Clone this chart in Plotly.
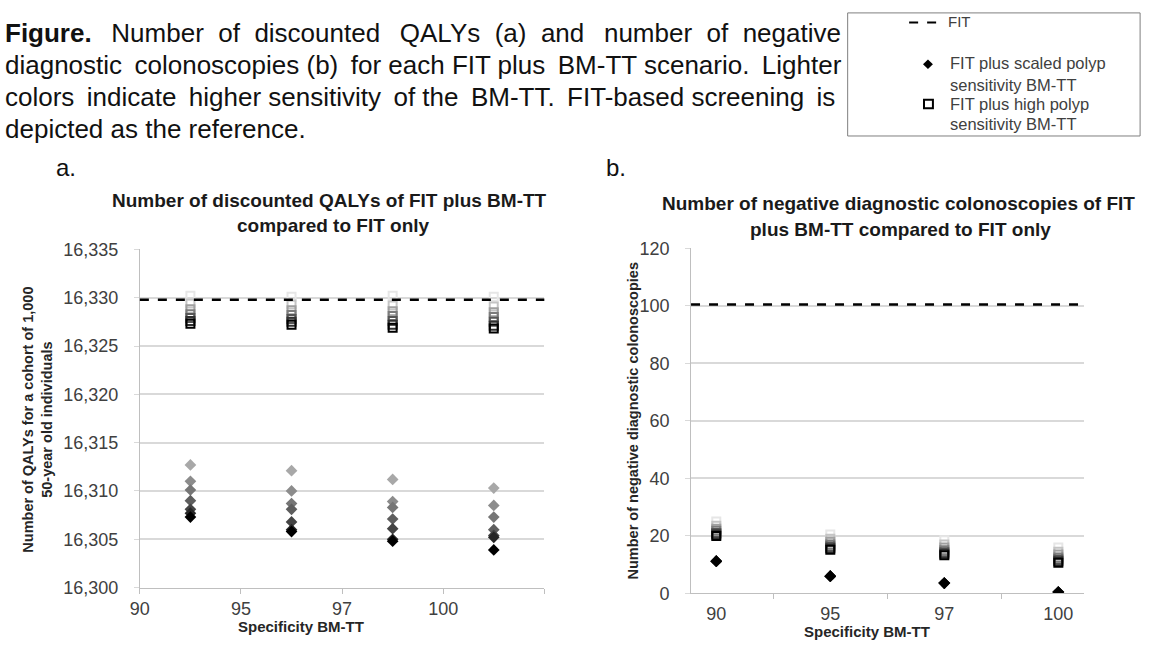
import plotly.graph_objects as go
from plotly.subplots import make_subplots

W, H = 1152, 648

# ---------------- data ----------------
spec_labels = ["90", "95", "97", "100"]

fit_qaly = 16329.8
fit_negcol = 100.5

# level 0 = highest BM-TT sensitivity (lightest), level 6 = lowest (darkest)
qaly_scaled = [
    [16312.7, 16312.1, 16311.2, 16310.3],
    [16311.0, 16310.0, 16308.9, 16308.5],
    [16310.1, 16308.7, 16308.3, 16307.3],
    [16309.0, 16308.1, 16307.1, 16306.0],
    [16308.1, 16306.8, 16306.1, 16305.4],
    [16307.7, 16306.0, 16305.0, 16305.2],
    [16307.3, 16305.8, 16304.8, 16303.9],
]
qaly_high = [
    [16330.2, 16330.1, 16330.2, 16330.1],
    [16329.4, 16329.3, 16329.2, 16329.1],
    [16328.8, 16328.7, 16328.6, 16328.5],
    [16328.3, 16328.2, 16328.1, 16328.0],
    [16327.9, 16327.8, 16327.6, 16327.5],
    [16327.6, 16327.5, 16327.2, 16327.1],
    [16327.3, 16327.2, 16326.9, 16326.8],
]
negcol_scaled = [
    [11.2, 6.0, 3.6, 0.5],
    [11.2, 6.0, 3.6, 0.5],
    [11.2, 6.0, 3.6, 0.5],
    [11.2, 6.0, 3.6, 0.5],
    [11.2, 6.0, 3.6, 0.5],
    [11.2, 6.0, 3.6, 0.5],
    [11.2, 6.0, 3.6, 0.5],
]
negcol_high = [
    [25.0, 20.5, 18.5, 16.0],
    [23.5, 19.0, 17.0, 14.5],
    [22.5, 18.0, 16.0, 13.5],
    [21.8, 17.0, 15.0, 12.5],
    [21.0, 16.3, 14.3, 11.8],
    [20.5, 15.7, 13.8, 11.2],
    [20.0, 15.2, 13.3, 10.7],
]

diamond_colors = ["#a8a8a8", "#8c8c8c", "#767676", "#5e5e5e", "#444444", "#262626", "#000000"]
square_colors = ["#e6e6e6", "#c4c4c4", "#a0a0a0", "#7c7c7c", "#565656", "#303030", "#000000"]

caption_lines = [
    ["<b>Figure.</b>", "Number", "of", "discounted", "QALYs", "(a)", "and", "number", "of", "negative"],
    ["diagnostic", "colonoscopies", "(b)", "for", "each", "FIT", "plus", "BM-TT", "scenario.", "Lighter"],
    ["colors", "indicate", "higher", "sensitivity", "of", "the", "BM-TT.", "FIT-based", "screening", "is"],
    ["depicted", "as", "the", "reference."],
]

# ---------------- helpers ----------------
def px(x):
    return x / W

def py(y):
    return 1 - y / H

NB = "\u00a0"
TH = "\u2009"

# extra spacing per gap to imitate the justified paragraph
gap_extra = [
    [NB + TH, NB, NB, NB + TH, NB, NB, NB + TH, NB, NB],
    [TH, "", TH, "", "", "", TH, "", TH],
    [TH, TH, "", TH, "", TH, TH, "", TH],
    ["", "", ""],
]

def justify(words, extras):
    out = words[0]
    for w, e in zip(words[1:], extras):
        out += " " + e + w
    return out

FONT = "Liberation Sans"
TXT = "#262626"
GRID = "#d9d9d9"

fig = make_subplots(rows=1, cols=2)

left_x = [i + 0.5 for i in range(len(spec_labels))]

for lvl in range(len(qaly_high)):
    fig.add_trace(go.Scatter(
        x=left_x, y=qaly_high[lvl], mode="markers",
        marker=dict(symbol="square-open", size=8, color=square_colors[lvl], line=dict(width=2)),
        showlegend=False, hoverinfo="skip"), row=1, col=1)
for lvl in range(len(qaly_scaled)):
    fig.add_trace(go.Scatter(
        x=left_x, y=qaly_scaled[lvl], mode="markers",
        marker=dict(symbol="diamond", size=9, color=diamond_colors[lvl]),
        showlegend=False, hoverinfo="skip"), row=1, col=1)

for lvl in range(len(negcol_high)):
    fig.add_trace(go.Scatter(
        x=spec_labels, y=negcol_high[lvl], mode="markers",
        marker=dict(symbol="square-open", size=8, color=square_colors[lvl], line=dict(width=2)),
        showlegend=False, hoverinfo="skip"), row=1, col=2)
for lvl in range(len(negcol_scaled)):
    fig.add_trace(go.Scatter(
        x=spec_labels, y=negcol_scaled[lvl], mode="markers",
        marker=dict(symbol="diamond", size=9, color=diamond_colors[lvl]),
        showlegend=False, hoverinfo="skip"), row=1, col=2)

fig.add_hline(y=fit_qaly, line=dict(color="black", width=2.5, dash="dash"), row=1, col=1)
fig.add_hline(y=fit_negcol, line=dict(color="black", width=2.5, dash="dash"), row=1, col=2)

tickfont = dict(family=FONT, size=18, color="#404040")

fig.update_xaxes(
    domain=[px(131), px(539)], range=[0, 4],
    tickvals=[0, 1, 2, 3, 4], ticktext=spec_labels + [""],
    showgrid=False, showline=True, linecolor="#bfbfbf", linewidth=1,
    ticks="outside", ticklen=5, tickcolor="#bfbfbf", tickfont=tickfont,
    ticklabelstandoff=0, zeroline=False, row=1, col=1)
fig.update_yaxes(
    domain=[py(596), py(247)], range=[16300, 16335], dtick=5, tickformat=",d",
    showgrid=True, gridcolor=GRID, gridwidth=1.5, showline=True, linecolor="#bfbfbf",
    ticks="outside", ticklen=5, tickcolor=GRID, tickfont=tickfont,
    ticklabelstandoff=12, zeroline=False, row=1, col=1)

fig.update_xaxes(
    domain=[px(687), px(1083)], type="category", tickson="boundaries",
    showgrid=False, showline=True, linecolor="#bfbfbf", linewidth=1,
    ticks="outside", ticklen=5, tickcolor="#bfbfbf", tickfont=tickfont,
    ticklabelstandoff=4, row=1, col=2)
fig.update_yaxes(
    domain=[py(602), py(246)], range=[0, 120], dtick=20,
    showgrid=True, gridcolor=GRID, gridwidth=1.5, showline=True, linecolor="#bfbfbf",
    ticks="outside", ticklen=5, tickcolor=GRID, tickfont=tickfont,
    ticklabelstandoff=12, zeroline=False, row=1, col=2)

ann = []

def text(x, y, s, size, bold=False, xanchor="left", color=TXT, angle=0):
    if bold:
        s = "<b>" + s + "</b>"
    ann.append(dict(x=px(x), y=py(y), xref="paper", yref="paper", text=s, showarrow=False,
                    xanchor=xanchor, yanchor="middle", textangle=angle,
                    font=dict(family=FONT, size=size, color=color)))

for i, (words, extras) in enumerate(zip(caption_lines, gap_extra)):
    text(-7, 24 + 33 * i, justify(words, extras), 26, color="#111111")

text(44, 163, "a.", 24, color="#111111")
text(599, 163, "b.", 24, color="#111111")

text(322, 197, "Number of discounted QALYs of FIT plus BM-TT", 19, True, "center", "#1a1a1a")
text(326, 222, "compared to FIT only", 19, True, "center", "#1a1a1a")
text(896, 200, "Number of negative diagnostic colonoscopies of FIT", 19, True, "center", "#1a1a1a")
text(898, 227, "plus BM-TT compared to FIT only", 19, True, "center", "#1a1a1a")

text(28, 423, "Number of QALYs for a cohort of 1,000<br>50-year old individuals", 14.5, True, "center", "#262626", -90)
text(628, 424, "Number of negative diagnostic colonoscopies", 14.5, True, "center", "#262626", -90)
text(294, 636, "Specificity BM-TT", 15, True, "center", "#262626")
text(864, 641, "Specificity BM-TT", 15, True, "center", "#262626")

LEG = "#404040"
text(944, 12, "FIT", 15, color=LEG)
text(946, 55, "FIT plus scaled polyp", 16.5, color=LEG)
text(946, 77, "sensitivity BM-TT", 16.5, color=LEG)
text(946, 97, "FIT plus high polyp", 16.5, color=LEG)
text(946, 118, "sensitivity BM-TT", 16.5, color=LEG)

shapes = [
    dict(type="rect", xref="paper", yref="paper", x0=px(845), x1=px(1140), y0=py(130), y1=py(3),
         line=dict(color="#7f7f7f", width=1), fillcolor="rgba(0,0,0,0)"),
    dict(type="line", xref="paper", yref="paper", x0=px(907), x1=px(940), y0=py(13), y1=py(13),
         line=dict(color="black", width=2, dash="dash")),
    dict(type="path", xref="paper", yref="paper",
         path=f"M {px(926)},{py(51)} L {px(931)},{py(56)} L {px(926)},{py(61)} L {px(921)},{py(56)} Z",
         fillcolor="black", line=dict(color="black", width=0)),
    dict(type="rect", xref="paper", yref="paper", x0=px(922), x1=px(931), y0=py(101.5), y1=py(92.5),
         line=dict(color="black", width=2), fillcolor="white"),
]

fig.update_layout(
    width=W, height=H, margin=dict(l=0, r=0, t=0, b=0),
    paper_bgcolor="white", plot_bgcolor="white",
    annotations=list(fig.layout.annotations) + ann,
    shapes=list(fig.layout.shapes) + shapes,
    showlegend=False,
)

fig.write_html("out.html")
